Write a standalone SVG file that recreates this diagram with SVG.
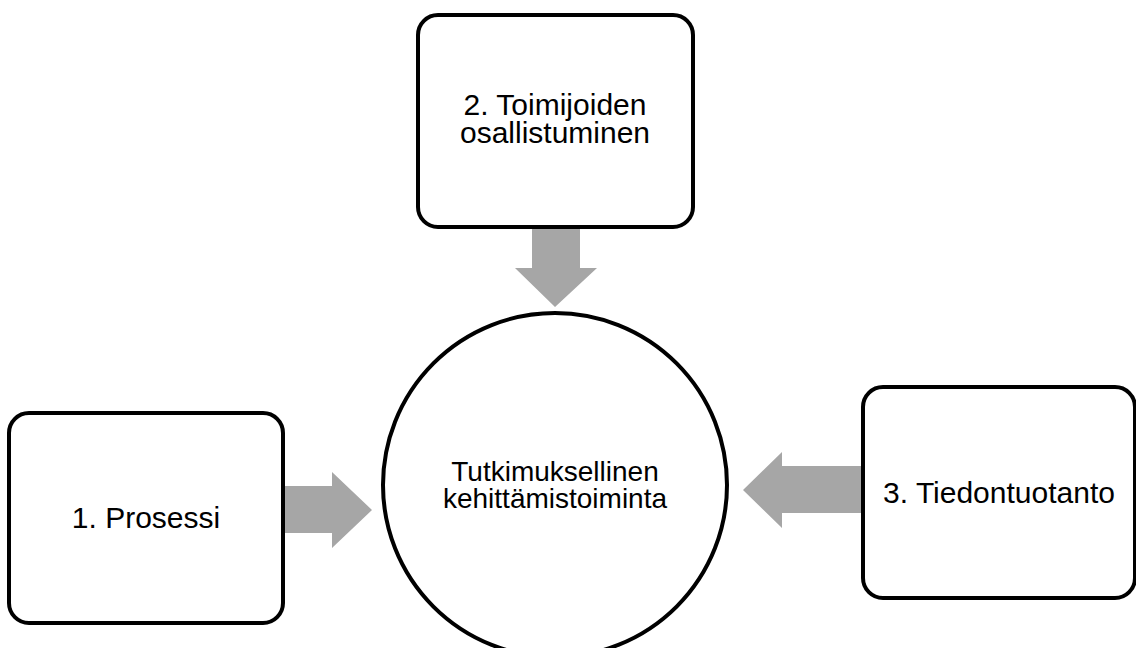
<svg xmlns="http://www.w3.org/2000/svg" width="1136" height="648" viewBox="0 0 1136 648">
<style>
.box{fill:#fff;stroke:#000;stroke-width:4}
.arr{fill:#a6a6a6;stroke:none}
.t{font-family:"Liberation Sans",Arial,sans-serif;font-size:30px;fill:#000;text-anchor:middle}
.c{font-family:"Liberation Sans",Arial,sans-serif;font-size:28px;fill:#000;text-anchor:middle}
</style>
<rect width="1136" height="648" fill="#fff"/>
<g id="connectors">
<polygon class="arr" points="532,227 580,227 580,268 597,268 555,307 515,268 532,268"/>
<polygon class="arr" points="283,486 332,486 332,472 372,510 332,548 332,533 283,533"/>
<polygon class="arr" points="863,466 782,466 782,452 743,490 782,528 782,513 863,513"/>
</g>
<g id="node-center">
<circle class="box" cx="555" cy="485" r="172"/>
<text class="c" x="555" y="481">Tutkimuksellinen</text>
<text class="c" x="555" y="508">kehittämistoiminta</text>
</g>
<g id="node-1">
<rect class="box" x="9" y="413" width="274" height="210" rx="20"/>
<text class="t" x="146" y="528">1. Prosessi</text>
</g>
<g id="node-2">
<rect class="box" x="418" y="15" width="275" height="212" rx="20"/>
<text class="t" x="555" y="115">2. Toimijoiden</text>
<text class="t" x="555" y="143">osallistuminen</text>
</g>
<g id="node-3">
<rect class="box" x="863" y="387" width="272" height="211" rx="20"/>
<text class="t" x="999" y="503">3. Tiedontuotanto</text>
</g>
</svg>
